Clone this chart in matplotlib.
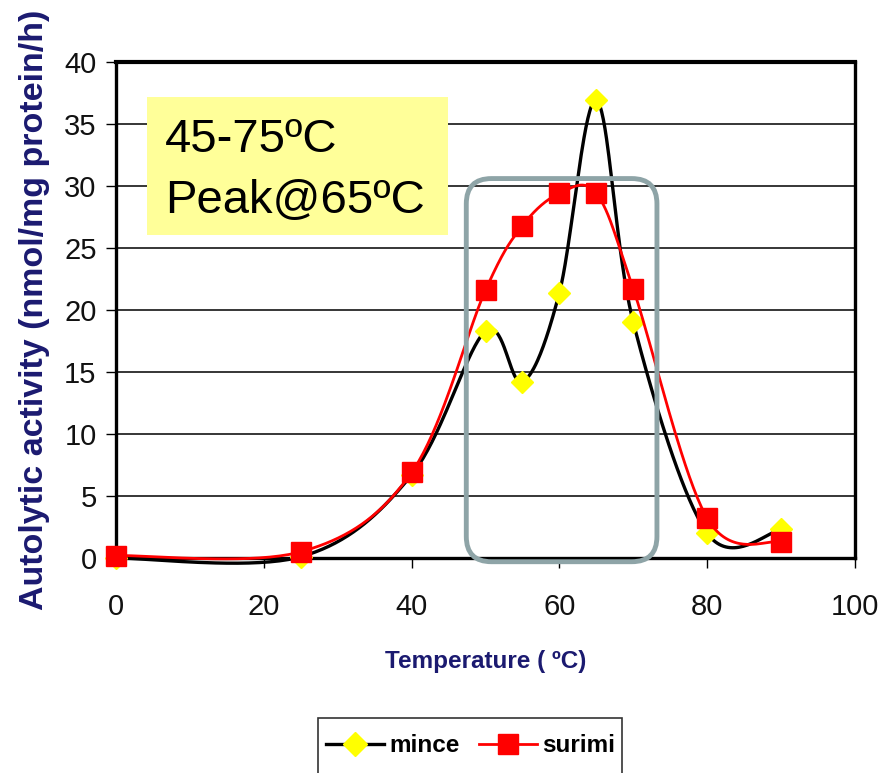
import numpy as np
import matplotlib
matplotlib.use('Agg')
import matplotlib.pyplot as plt
from matplotlib.patches import FancyBboxPatch, Rectangle
from matplotlib.lines import Line2D

# data
temps = [0, 25, 40, 50, 55, 60, 65, 70, 80, 90]
mince = [0.0, 0.1, 6.7, 18.3, 14.2, 21.4, 36.9, 19.0, 2.0, 2.3]
surimi = [0.2, 0.5, 6.9, 21.6, 26.8, 29.4, 29.4, 21.7, 3.2, 1.3]
xticks = [0, 20, 40, 60, 80, 100]
yticks = [0, 5, 10, 15, 20, 25, 30, 35, 40]
series_names = ['mince', 'surimi']
note_lines = ['45-75ºC', 'Peak@65ºC']

ARIAL = ['Liberation Sans', 'DejaVu Sans']
NAVY = '#1b1a70'


def smooth(xs, ys, n=40):
    # excel-like smoothed line (catmull-rom bezier)
    x = np.asarray(xs, float)
    y = np.asarray(ys, float)
    px = np.concatenate([[x[0]], x, [x[-1]]])
    py = np.concatenate([[y[0]], y, [y[-1]]])
    outx, outy = [], []
    t = np.linspace(0, 1, n)
    for i in range(1, len(px) - 2):
        p0 = np.array([px[i], py[i]])
        p3 = np.array([px[i + 1], py[i + 1]])
        c1 = p0 + (np.array([px[i + 1], py[i + 1]]) - np.array([px[i - 1], py[i - 1]])) / 6
        c2 = p3 - (np.array([px[i + 2], py[i + 2]]) - np.array([px[i], py[i]])) / 6
        b = ((1 - t) ** 3)[:, None] * p0 + (3 * (1 - t) ** 2 * t)[:, None] * c1 \
            + (3 * (1 - t) * t ** 2)[:, None] * c2 + (t ** 3)[:, None] * p3
        outx.extend(b[:, 0])
        outy.extend(b[:, 1])
    return outx, outy


fig = plt.figure(figsize=(8.85, 7.73), dpi=100)
ax = fig.add_axes([116 / 885, 1 - 558 / 773, 739 / 885, 496 / 773])

ax.set_xlim(0, 100)
ax.set_ylim(0, 40)
ax.set_yticks(yticks)
ax.set_xticks(xticks)
ax.yaxis.grid(True, color='black', linewidth=1.1)
ax.set_axisbelow(True)
for s in ax.spines.values():
    s.set_linewidth(2.4)
ax.spines['top'].set_linewidth(3)
ax.tick_params(axis='both', direction='out', length=7, width=1, colors='black')
ax.tick_params(axis='y', pad=7)
ax.tick_params(axis='x', pad=18)
for lab in ax.get_xticklabels() + ax.get_yticklabels():
    lab.set_family(ARIAL)
    lab.set_fontsize(21)
    lab.set_color('#111111')

# mince
mx, my = smooth(temps, mince)
ax.plot(mx, my, color='black', lw=2.4, zorder=3, clip_on=False)
ax.plot(temps, mince, ls='none', marker='D', ms=11, color='#ffff00', mec='#ffff00', zorder=4, clip_on=False)
# surimi
sx, sy = smooth(temps, surimi)
ax.plot(sx, sy, color='#ff0000', lw=2.0, zorder=5, clip_on=False)
ax.plot(temps, surimi, ls='none', marker='s', ms=14, color='#ff0000', zorder=6, clip_on=False)

ax.set_xlabel('Temperature ( ºC)', family=ARIAL, fontsize=17.5, fontweight='bold', color=NAVY, labelpad=21)
ax.set_ylabel('Autolytic activity (nmol/mg protein/h)', family=ARIAL, fontsize=24.5, fontweight='bold',
              color=NAVY, labelpad=10)

# rounded highlight box around the peak region
hl = FancyBboxPatch((47.4, -0.3), 25.8, 30.9, boxstyle='round,pad=0,rounding_size=3.4',
                    mutation_aspect=0.6, fill=False, ec='#8ea4a7', lw=3.5, zorder=7, clip_on=False)
ax.add_patch(hl)

# yellow note box
fig.patches.append(Rectangle((147 / 885, 1 - 235 / 773), 301 / 885, 138 / 773,
                             transform=fig.transFigure, fc='#ffff99', ec='none', zorder=2))
fig.text(165 / 885, 1 - 152 / 773, note_lines[0], family=ARIAL, fontsize=34, va='baseline', zorder=3)
fig.text(165 / 885, 1 - 213 / 773, note_lines[1], family=ARIAL, fontsize=34, va='baseline', zorder=3)

# legend, its frame runs off the bottom edge
fig.patches.append(Rectangle((318 / 885, 1 - 790 / 773), 304 / 885, 72 / 773,
                             transform=fig.transFigure, fc='white', ec='#333333', lw=1.2, zorder=2))
handles = [Line2D([], [], color='black', lw=2.4, marker='D', ms=12, mfc='#ffff00', mec='#ffff00'),
           Line2D([], [], color='#ff0000', lw=2.0, marker='s', ms=14, mfc='#ff0000', mec='#ff0000')]
leg = fig.legend(handles, series_names, loc='center left', bbox_to_anchor=(326 / 885, 1 - 746 / 773),
                 ncol=2, frameon=False, handlelength=2.4, handletextpad=0.2,
                 columnspacing=0.8, borderpad=0.0, borderaxespad=0,
                 prop={'family': ARIAL, 'size': 17.5, 'weight': 'bold'})
leg.set_zorder(4)

fig.savefig('out.png', dpi=100)
